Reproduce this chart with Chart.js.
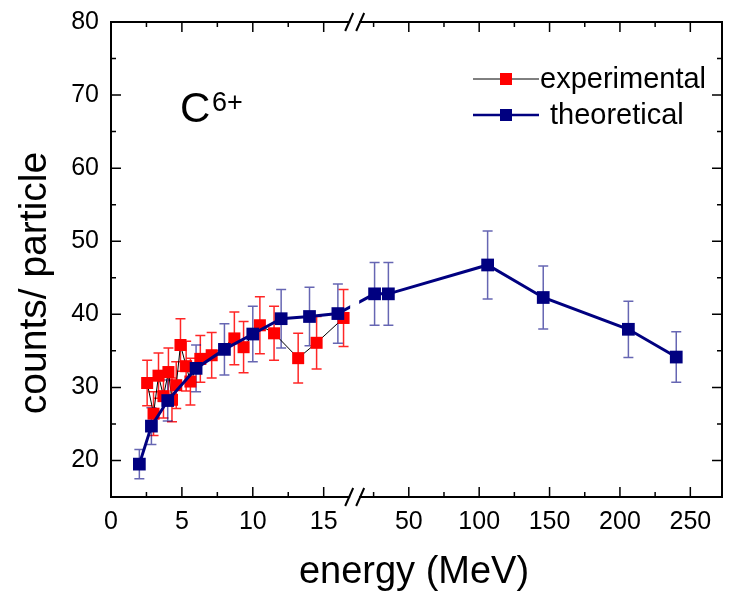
<!DOCTYPE html>
<html>
<head>
<meta charset="utf-8">
<script src="https://cdn.jsdelivr.net/npm/chart.js@4/dist/chart.umd.min.js"></script>
<style>
  html, body { margin:0; padding:0; background:#fff; }
  canvas { display:block; }
</style>
</head>
<body>
<canvas id="chart" width="731" height="599"></canvas>
<script>
// experimental (red) points
const expX   = [2.55, 3.0, 3.35, 3.7, 4.05, 4.3, 4.6, 4.9, 5.3, 5.6, 6.3, 7.1, 8.7, 9.35, 10.5, 11.5, 13.2, 14.5, 16.4];
const expY   = [30.6, 26.4, 31.6, 28.8, 32.1, 28.3, 30.3, 35.8, 32.9, 30.8, 33.9, 34.4, 36.7, 35.5, 38.5, 37.4, 34.0, 36.1, 39.5];
const expErr = [3.1, 3.0, 3.1, 3.0, 3.3, 3.0, 3.2, 3.6, 3.4, 3.2, 3.2, 3.1, 3.6, 3.5, 3.9, 3.7, 3.4, 3.6, 3.9];

// theoretical (navy) points
const theoX   = [2, 2.85, 4, 6, 8, 10, 12, 14, 16, 25.7, 35.5, 106, 145.5, 206, 240];
const theoY   = [19.5, 24.7, 28.2, 32.6, 35.2, 37.3, 39.4, 39.7, 40.1, 42.8, 42.8, 46.75, 42.3, 37.95, 34.15];
const theoErr = [2.0, 2.5, 2.8, 3.2, 3.5, 3.8, 4.0, 4.0, 4.05, 4.3, 4.3, 4.65, 4.3, 3.85, 3.45];

// broken x axis ticks
const xTickValues = [0, 2.5, 5, 7.5, 10, 12.5, 15, 25, 50, 75, 100, 125, 150, 175, 200, 225, 250];
const xTickLabels = ['0', '', '5', '', '10', '', '15', '', '50', '', '100', '', '150', '', '200', '', '250'];
const yTickLabels = [20, 30, 40, 50, 60, 70, 80];

const FONT = '"Liberation Sans", Arial, Helvetica, sans-serif';

// linear scale with a break: [0, lowMax] on the left part, [highMin, max] on the right part
class BrokenLinearScale extends Chart.LinearScale {
  buildTicks(){
    this.start = this.min; this.end = this.max;
    return xTickValues.map(v => ({ value: v }));
  }
  _dec(v){
    const o = this.options;
    if (v <= o.lowMax) return v / o.lowMax * o.breakFrac;
    return o.breakFrac + (v - o.highMin) / (this.max - o.highMin) * (1 - o.breakFrac);
  }
  getPixelForValue(v){ return this.getPixelForDecimal(this._dec(v)); }
  getValueForPixel(px){
    const o = this.options, d = this.getDecimalForPixel(px);
    if (d <= o.breakFrac) return d / o.breakFrac * o.lowMax;
    return o.highMin + (d - o.breakFrac) / (1 - o.breakFrac) * (this.max - o.highMin);
  }
}
BrokenLinearScale.id = 'brokenLinear';
BrokenLinearScale.defaults = Chart.LinearScale.defaults;
Chart.register(BrokenLinearScale);

// keep label overflow from shrinking the plot area
const noPad = s => { s.paddingLeft = s.paddingRight = s.paddingTop = s.paddingBottom = 0; };

function errorBars(ctx, xs, ys, X, Y, E, color){
  ctx.save();
  ctx.strokeStyle = color;
  ctx.lineWidth = 1.5;
  ctx.beginPath();
  X.forEach((x, i) => {
    const px = xs.getPixelForValue(x);
    const top = ys.getPixelForValue(Y[i] + E[i]);
    const bot = ys.getPixelForValue(Y[i] - E[i]);
    ctx.moveTo(px, top); ctx.lineTo(px, bot);
    ctx.moveTo(px - 5, top); ctx.lineTo(px + 5, top);
    ctx.moveTo(px - 5, bot); ctx.lineTo(px + 5, bot);
  });
  ctx.stroke();
  ctx.restore();
}

const decorations = {
  id: 'decorations',
  beforeDatasetsDraw(chart){
    const { ctx, scales:{ x, y } } = chart;
    errorBars(ctx, x, y, expX, expY, expErr, 'rgba(255,0,0,0.85)');
    errorBars(ctx, x, y, theoX, theoY, theoErr, 'rgba(0,0,128,0.6)');
  },
  afterDatasetsDraw(chart){
    const { ctx, chartArea:a, scales:{ x, y } } = chart;
    ctx.save();
    // frame
    ctx.strokeStyle = '#000';
    ctx.lineWidth = 2;
    ctx.strokeRect(a.left, a.top, a.right - a.left, a.bottom - a.top);
    // inward ticks
    ctx.lineWidth = 1.5;
    ctx.beginPath();
    x.ticks.forEach((t, i) => {
      const px = x.getPixelForValue(t.value);
      const len = xTickLabels[i] ? 10 : 5;
      ctx.moveTo(px, a.bottom); ctx.lineTo(px, a.bottom - len);
      ctx.moveTo(px, a.top); ctx.lineTo(px, a.top + len);
    });
    y.ticks.forEach(t => {
      const py = y.getPixelForValue(t.value);
      const len = yTickLabels.includes(t.value) ? 10 : 5;
      ctx.moveTo(a.left, py); ctx.lineTo(a.left + len, py);
      ctx.moveTo(a.right, py); ctx.lineTo(a.right - len, py);
    });
    ctx.stroke();
    // axis break
    const bx = x.getPixelForDecimal(x.options.breakFrac);
    ctx.fillStyle = '#fff';
    ctx.fillRect(bx - 4, a.top - 3, 9, a.bottom - a.top + 6);
    ctx.lineWidth = 2;
    ctx.beginPath();
    [a.top, a.bottom].forEach(yy => {
      [bx - 5, bx + 6].forEach(cx => {
        ctx.moveTo(cx - 4, yy + 9); ctx.lineTo(cx + 4, yy - 9);
      });
    });
    ctx.stroke();
    ctx.restore();
  },
  afterDraw(chart){
    const { ctx } = chart;
    ctx.save();
    ctx.fillStyle = '#000';
    // axis titles
    ctx.textAlign = 'center';
    ctx.textBaseline = 'middle';
    ctx.font = '38px ' + FONT;
    ctx.fillText('energy (MeV)', 414, 573);
    ctx.save();
    ctx.translate(35, 283);
    ctx.rotate(-Math.PI / 2);
    ctx.font = '39px ' + FONT;
    ctx.fillText('counts/ particle', 0, 0);
    ctx.restore();
    // ion label
    ctx.textAlign = 'left';
    ctx.textBaseline = 'alphabetic';
    ctx.font = '42px ' + FONT;
    ctx.fillText('C', 180, 122);
    ctx.font = '27px ' + FONT;
    ctx.fillText('6+', 212, 111);
    // legend
    const items = [
      { text:'experimental', line:'#000', lw:1, fill:'#ff0000', y:79, tx:540 },
      { text:'theoretical', line:'#000080', lw:2.5, fill:'#000080', y:115, tx:550 }
    ];
    ctx.font = '29px ' + FONT;
    ctx.textBaseline = 'middle';
    items.forEach(it => {
      ctx.strokeStyle = it.line;
      ctx.lineWidth = it.lw;
      ctx.beginPath(); ctx.moveTo(473, it.y); ctx.lineTo(539, it.y); ctx.stroke();
      ctx.fillStyle = it.fill;
      ctx.fillRect(500, it.y - 6, 12, 12);
      ctx.fillStyle = '#000';
      ctx.fillText(it.text, it.tx, it.y + 1);
    });
    ctx.restore();
  }
};

new Chart(document.getElementById('chart'), {
  type: 'line',
  data: {
    datasets: [
      {
        label: 'theoretical',
        data: theoX.map((v, i) => ({ x: v, y: theoY[i] })),
        borderColor: '#000080', borderWidth: 3,
        pointStyle: 'rect', pointRadius: 9, pointBorderWidth: 0,
        pointBackgroundColor: '#000080', pointBorderColor: '#000080',
        order: 0
      },
      {
        label: 'experimental',
        data: expX.map((v, i) => ({ x: v, y: expY[i] })),
        borderColor: '#000', borderWidth: 1,
        pointStyle: 'rect', pointRadius: 8.5, pointBorderWidth: 0,
        pointBackgroundColor: '#ff0000', pointBorderColor: '#ff0000',
        order: 1
      }
    ]
  },
  options: {
    responsive: false,
    animation: false,
    layout: { padding: { top: 22, right: 0, left: 0, bottom: 0 } },
    plugins: { legend: { display: false }, tooltip: { enabled: false } },
    scales: {
      x: {
        type: 'brokenLinear',
        min: 0, max: 272.5,
        lowMax: 17.15, highMin: 11.2, breakFrac: 0.398,
        grid: { display: false, drawTicks: false },
        border: { display: false },
        ticks: {
          autoSkip: false, maxRotation: 0, padding: 10,
          color: '#000', font: { family: FONT, size: 25 },
          callback: (v, i) => xTickLabels[i]
        },
        afterFit: s => { s.height = 102; noPad(s); }
      },
      y: {
        min: 15, max: 80,
        grid: { display: false, drawTicks: false },
        border: { display: false },
        ticks: {
          stepSize: 5, padding: 12,
          color: '#000', font: { family: FONT, size: 25 },
          callback: v => yTickLabels.includes(v) ? v : ''
        },
        afterFit: s => { s.width = 111; noPad(s); }
      }
    }
  },
  plugins: [decorations]
});
</script>
</body>
</html>
